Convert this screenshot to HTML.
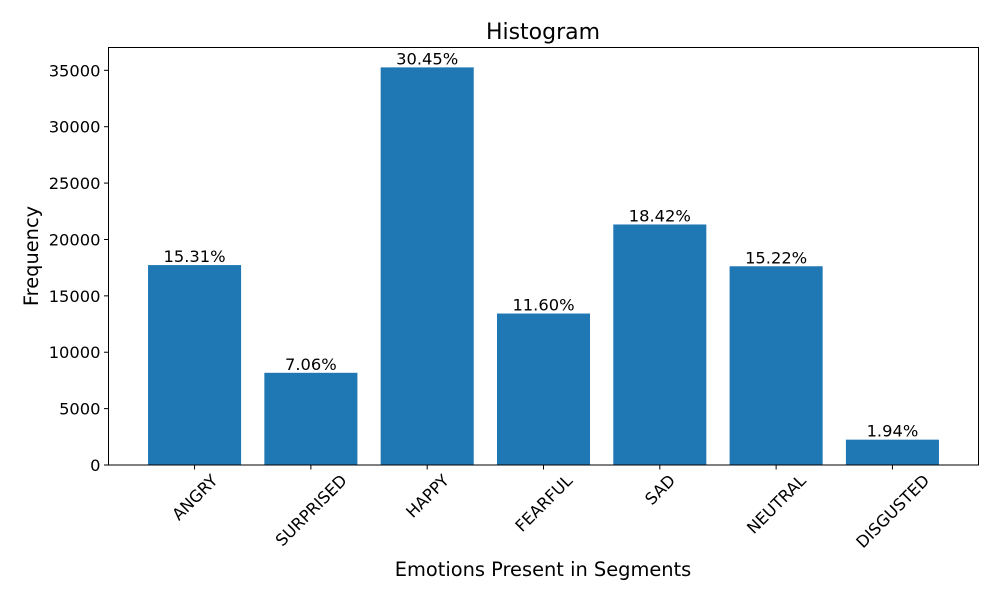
<!DOCTYPE html>
<html><head><meta charset="utf-8"><style>
body{margin:0;background:#fff}
svg{display:block;font-family:"DejaVu Sans","Liberation Sans",sans-serif}
</style></head><body>
<svg id="chart" width="1000" height="600" xmlns="http://www.w3.org/2000/svg">
<rect width="1000" height="600" fill="#fff"/>
<text x="543" y="39" font-size="22" text-anchor="middle">Histogram</text>
<text x="543" y="576" font-size="19.4" text-anchor="middle">Emotions Present in Segments</text>
<text transform="translate(38,256) rotate(-90)" font-size="19.4" text-anchor="middle">Frequency</text>
<g id="bars"></g><g id="yticks"></g><g id="xticks"></g><g id="labels"></g>
<rect x="108.5" y="47.5" width="870" height="417.5" fill="none" stroke="#000" stroke-width="1"/>
</svg>
<script>
const categories = ["ANGRY","SURPRISED","HAPPY","FEARFUL","SAD","NEUTRAL","DISGUSTED"];
const values = [17729, 8176, 35261, 13433, 21330, 17625, 2247];
const percentLabels = ["15.31%","7.06%","30.45%","11.60%","18.42%","15.22%","1.94%"];
const yTicks = [0,5000,10000,15000,20000,25000,30000,35000];

const NS="http://www.w3.org/2000/svg";
const L=108.5,R=978.5,T=47.5,B=465;
const FS=16.3;
const ymax=Math.max(...values)*1.05;
const y=v=>B-(v/ymax)*(B-T);
const n=categories.length;
const xmin=-0.4-0.05*(n-1+0.8), xmaxv=n-1+0.4+0.05*(n-1+0.8);
const x=i=>L+(i-xmin)/(xmaxv-xmin)*(R-L);
const bw=0.8*(R-L)/(xmaxv-xmin);
function mk(tag,attrs,parent){const e=document.createElementNS(NS,tag);for(const k in attrs)e.setAttribute(k,attrs[k]);parent.appendChild(e);return e;}
const gb=document.getElementById('bars'),gy=document.getElementById('yticks'),gx=document.getElementById('xticks'),gl=document.getElementById('labels');
values.forEach((v,i)=>{
  const r=mk('rect',{x:x(i)-bw/2,y:y(v),width:bw,height:B-y(v),fill:'#1f77b4'},gb);
  
  
  const t=mk('text',{x:x(i),y:y(v)-3,'font-size':FS,'text-anchor':'middle'},gl);
  t.textContent=percentLabels[i];
  
  
  mk('line',{x1:x(i),x2:x(i),y1:B,y2:B+4.5,stroke:'#000'},gx);
  const lab=mk('text',{'font-size':FS,'text-anchor':'middle'},gx);
  lab.textContent=categories[i];
  
  
  const w=lab.getComputedTextLength(), h=FS*0.75;
  const half=(w+h)*Math.SQRT1_2/2;
  const cy=B+8+half;
  lab.setAttribute('transform',`translate(${x(i)},${cy}) rotate(-45)`);
  lab.setAttribute('dy','6');
});
yTicks.forEach(v=>{
  mk('line',{x1:L-4.5,x2:L,y1:y(v),y2:y(v),stroke:'#000'},gy);
  const t=mk('text',{x:L-8,y:y(v)+6,'font-size':FS,'text-anchor':'end'},gy);
  t.textContent=v;
  
  
});
</script>
</body></html>
